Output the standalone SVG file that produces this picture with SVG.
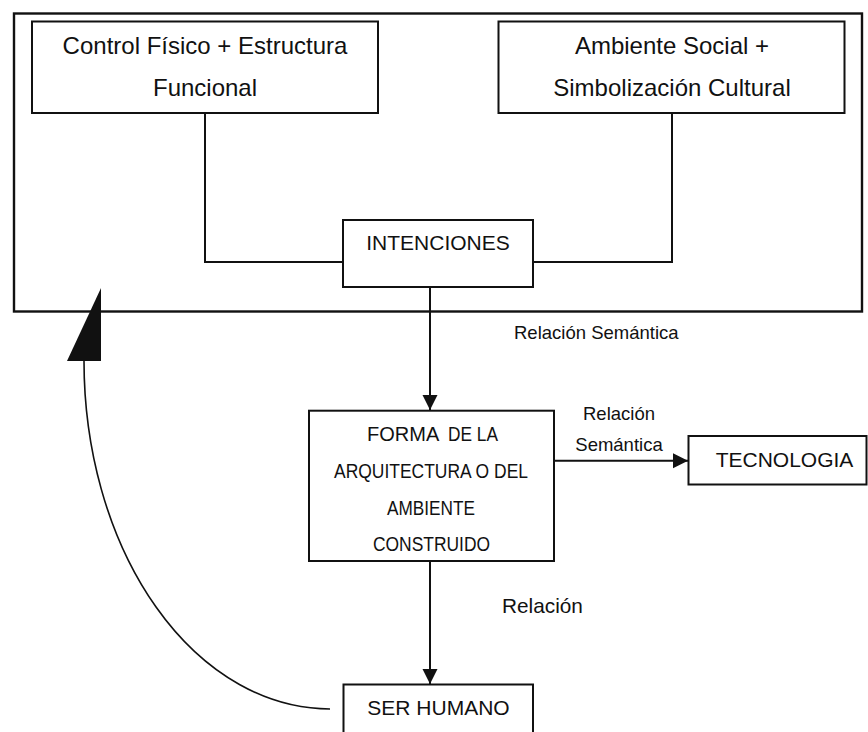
<svg xmlns="http://www.w3.org/2000/svg" width="868" height="732" viewBox="0 0 868 732">
<defs>
<style>
.box{fill:#fff;stroke:#111;stroke-width:2}
.frame{fill:none;stroke:#111;stroke-width:2.4}
.ln{fill:none;stroke:#111;stroke-width:2}
.t{font-family:"Liberation Sans",Arial,sans-serif;fill:#111}
.big{font-size:24px}
.mid{font-size:21px}
.lab{font-size:18.5px}
</style>
<marker id="ah" markerUnits="userSpaceOnUse" markerWidth="16" markerHeight="16" viewBox="0 0 16 16" refX="15" refY="8" orient="auto">
<path d="M0,0.5 L15,8 L0,15.5 Z" fill="#111"/>
</marker>
</defs>
<rect width="868" height="732" fill="#fff"/>
<g id="frame"><rect class="frame" x="14" y="13.5" width="848" height="298"/></g>
<g id="connectors">
<polyline class="ln" points="205,113 205,262 343,262"/>
<polyline class="ln" points="672,113 672,262 533,262"/>
<line class="ln" x1="430" y1="287" x2="430" y2="410" marker-end="url(#ah)"/>
<line class="ln" x1="553" y1="460.7" x2="688" y2="460.7" marker-end="url(#ah)"/>
<line class="ln" x1="430" y1="561" x2="430" y2="684" marker-end="url(#ah)"/>
<path d="M84,361 A246,348 0 0 0 330,709" fill="none" stroke="#111" stroke-width="1.6"/>
<polygon points="101,288 101,361 67,361" fill="#111"/>
</g>
<g id="control">
<rect class="box" x="32" y="21.5" width="346" height="91.5"/>
<text class="t big" x="205" y="54" text-anchor="middle">Control Físico + Estructura</text>
<text class="t big" x="205" y="96" text-anchor="middle">Funcional</text>
</g>
<g id="ambiente">
<rect class="box" x="498.5" y="21.5" width="346" height="91.5"/>
<text class="t big" x="672" y="54" text-anchor="middle">Ambiente Social +</text>
<text class="t big" x="672" y="96" text-anchor="middle">Simbolización Cultural</text>
</g>
<g id="intenciones">
<rect class="box" x="343" y="220" width="190" height="67"/>
<text class="t mid" x="438" y="250" text-anchor="middle">INTENCIONES</text>
</g>
<g id="labels">
<text class="t lab" x="514" y="339">Relación Semántica</text>
<text class="t lab" x="619" y="420" text-anchor="middle">Relación</text>
<text class="t lab" x="619" y="451" text-anchor="middle">Semántica</text>
<text class="t" font-size="20.8" x="502" y="613">Relación</text>
</g>
<g id="forma">
<rect class="box" x="309" y="410.7" width="245" height="150.3"/>
<text class="t" font-size="20" x="367" y="441">FORMA</text>
<text class="t" font-size="21" x="448" y="441" textLength="50" lengthAdjust="spacingAndGlyphs">DE LA</text>
<text class="t" font-size="21" x="334" y="477.5" textLength="194" lengthAdjust="spacingAndGlyphs">ARQUITECTURA O DEL</text>
<text class="t" font-size="21" x="387" y="515" textLength="88" lengthAdjust="spacingAndGlyphs">AMBIENTE</text>
<text class="t" font-size="21" x="373" y="550.5" textLength="117" lengthAdjust="spacingAndGlyphs">CONSTRUIDO</text>
</g>
<g id="tecnologia">
<rect class="box" x="688.5" y="436" width="178" height="48.5"/>
<text class="t mid" x="784.5" y="467" text-anchor="middle">TECNOLOGIA</text>
</g>
<g id="ser-humano">
<rect class="box" x="343.5" y="684.5" width="189.5" height="60"/>
<text class="t mid" x="438.5" y="715" text-anchor="middle">SER HUMANO</text>
</g>
</svg>
